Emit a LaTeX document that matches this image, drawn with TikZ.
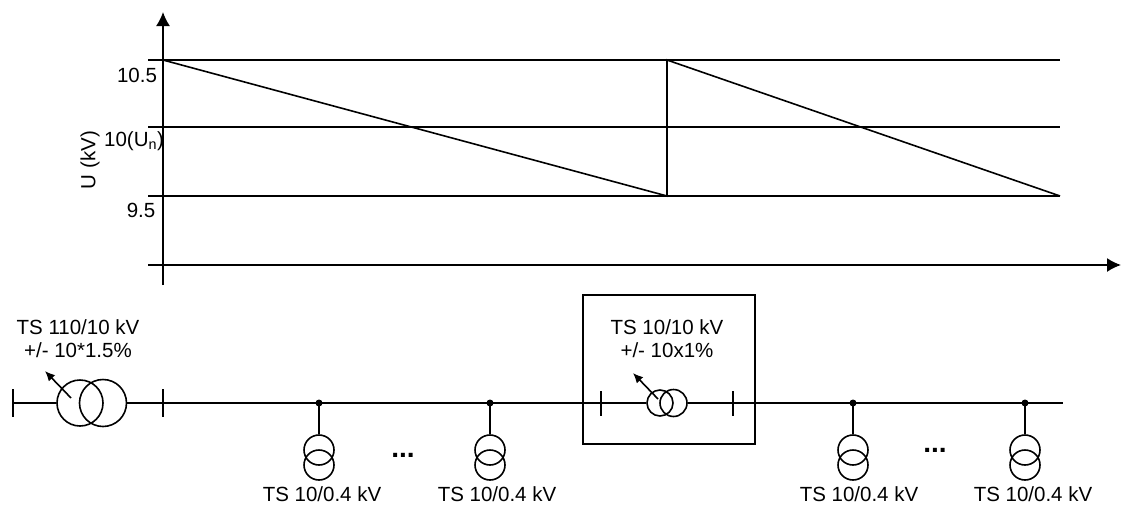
\documentclass[tikz,border=0pt]{standalone}
\usepackage{fontspec}
\setmainfont{Liberation Sans}
\usetikzlibrary{arrows.meta}
\begin{document}
\begin{tikzpicture}[x=1pt,y=-1pt,line width=1.6pt,
  lbl/.style={font=\fontsize{20.5}{24}\selectfont,inner sep=0pt},
  wind/.style={draw,circle,minimum size=#1,inner sep=0pt,line width=1.6pt},
  tip/.style={-{Latex[length=10pt,width=9pt]}},
  tapdot/.style={fill,circle,minimum size=7pt,inner sep=0pt}]
\useasboundingbox (0,0) rectangle (1121,506);
% axes
\coordinate (yb) at (163,285); \coordinate (yt) at (163,12);
\draw[-{Latex[length=14pt,width=14pt]}] (yb) -- (yt);
\coordinate (xl) at (148,265); \coordinate (xr) at (1121,265);
\draw[-{Latex[length=14pt,width=14pt]}] (xl) -- (xr);
% levels
\coordinate (h1l) at (148,60);  \coordinate (h1r) at (1060,60);
\coordinate (h2l) at (148,127); \coordinate (h2r) at (1060,127);
\coordinate (h3l) at (148,196); \coordinate (h3r) at (1060,196);
\draw (h1l) -- (h1r); \draw (h2l) -- (h2r); \draw (h3l) -- (h3r);
\coordinate (p0) at (163,60); \coordinate (p1) at (667,196);
\coordinate (p2) at (667,60); \coordinate (p3) at (1060,196);
\draw (p0) -- (p1) -- (p2) -- (p3);
% axis labels
\node[lbl,anchor=base] (l105) at (137,82) {10.5};
\node[lbl,anchor=base] (l10) at (134,146) {10(U\textsubscript{n})};
\node[lbl,anchor=base] (l95) at (141,217) {9.5};
\node[lbl,rotate=90] (lu) at (90,160) {U (kV)};
% main transformer
\node[wind=46pt] (t1a) at (80,403) {};
\node[wind=47pt] (t1b) at (103,403) {};
\coordinate (bus0) at (13,403);
\coordinate (bar0t) at (13,389); \coordinate (bar0b) at (13,417);
\coordinate (bar1t) at (163,389); \coordinate (bar1b) at (163,417);
\draw (bar0t) -- (bar0b); \draw (bar1t) -- (bar1b);
\draw (bus0) -- (t1a.west);
\coordinate (t1arr0) at (71,398); \coordinate (t1arr1) at (45,371);
\draw[tip] (t1arr0) -- (t1arr1);
\node[lbl,anchor=base] (t1l1) at (78,334) {TS 110/10 kV};
\node[lbl,anchor=base] (t1l2) at (78,357) {+/- 10*1.5\%};
% box transformer
\node[draw,minimum width=172pt,minimum height=149pt,inner sep=0pt] (box) at (669,369.5) {};
\node[wind=26pt] (t2a) at (660,403) {};
\node[wind=27pt] (t2b) at (673.5,403) {};
\coordinate (bar2t) at (601,391); \coordinate (bar2b) at (601,416);
\coordinate (bar3t) at (733,391); \coordinate (bar3b) at (733,416);
\draw (bar2t) -- (bar2b); \draw (bar3t) -- (bar3b);
\draw (t1b.east) -- (t2a.west);
\coordinate (bus1) at (1063,403);
\draw (t2b.east) -- (bus1);
\coordinate (t2arr0) at (658,399); \coordinate (t2arr1) at (633,373);
\draw[tip] (t2arr0) -- (t2arr1);
\node[lbl,anchor=base] (t2l1) at (667,334) {TS 10/10 kV};
\node[lbl,anchor=base] (t2l2) at (667,357) {+/- 10x1\%};
% loads
\foreach \n/\x/\lx in {a/319/322,b/490/497,c/853/859,d/1025/1033}{
  \node[tapdot] (tap\n) at (\x,403) {};
  \node[wind=30pt] (up\n) at (\x,450) {};
  \node[wind=30pt] (lo\n) at (\x,465) {};
  \draw (tap\n.center) -- (up\n.north);
  \node[lbl,anchor=base] (lab\n) at (\lx,501) {TS 10/0.4 kV};
}
\node[font=\fontsize{28}{30}\selectfont\bfseries,inner sep=0pt] (dots1) at (403,455) {...};
\node[font=\fontsize{28}{30}\selectfont\bfseries,inner sep=0pt] (dots2) at (935,450) {...};
\end{tikzpicture}
\end{document}
